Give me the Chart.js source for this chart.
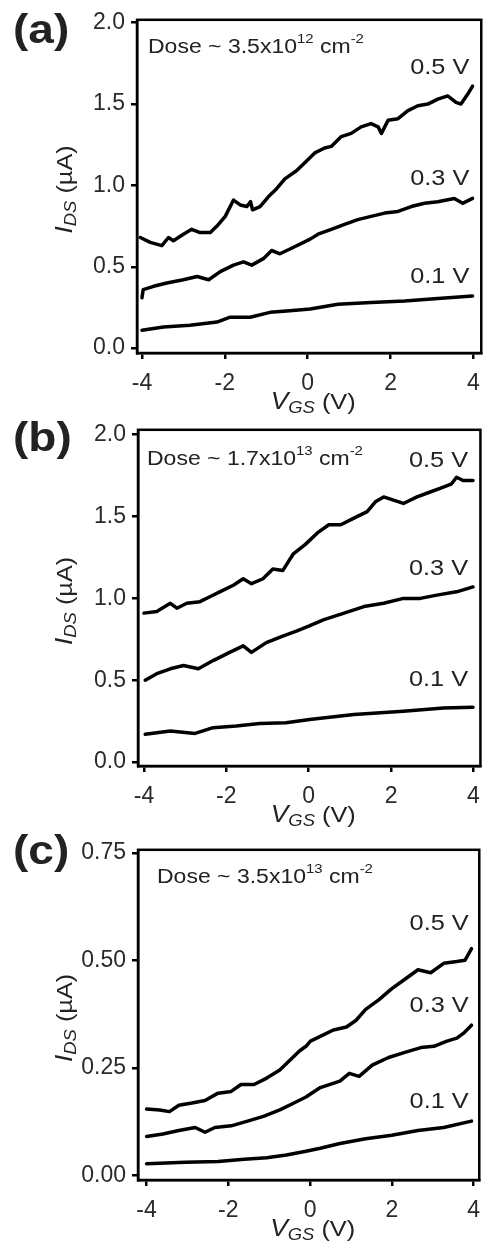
<!DOCTYPE html>
<html>
<head>
<meta charset="utf-8">
<script src="https://cdn.jsdelivr.net/npm/chart.js@4.4.1/dist/chart.umd.min.js"></script>
<style>
  html, body { margin: 0; padding: 0; background: #fff; }
  body { position: relative; width: 491px; height: 1249px; overflow: hidden; }
  canvas { position: absolute; left: 0; }
</style>
</head>
<body>
<canvas id="panelA" width="491" height="425" style="top:0px"></canvas>
<canvas id="panelB" width="491" height="430" style="top:410px"></canvas>
<canvas id="panelC" width="491" height="419" style="top:830px"></canvas>
<script>
const X_TICKS = [-4, -2, 0, 2, 4];
const Y_TICKS_AB = [0, 0.5, 1, 1.5, 2];
const Y_TICKS_C = [0, 0.25, 0.5, 0.75];
const BIAS_LABELS = ['0.5 V', '0.3 V', '0.1 V'];

// (a) dose ~ 3.5x10^12 cm^-2, [VGS (V), IDS (uA)]
const A_05 = [[-4.04, 0.68], [-3.8, 0.65], [-3.52, 0.63], [-3.36, 0.68], [-3.24, 0.66], [-3.0, 0.70], [-2.8, 0.73],
    [-2.6, 0.71], [-2.35, 0.71], [-2.19, 0.75], [-1.99, 0.81], [-1.79, 0.91], [-1.63, 0.88], [-1.47, 0.87],
    [-1.38, 0.90], [-1.33, 0.85], [-1.15, 0.87], [-0.95, 0.93], [-0.75, 0.98], [-0.55, 1.04], [-0.27, 1.09],
    [-0.07, 1.14], [0.17, 1.20], [0.41, 1.23], [0.57, 1.24], [0.81, 1.30], [1.05, 1.32], [1.29, 1.36],
    [1.53, 1.38], [1.70, 1.36], [1.78, 1.32], [1.94, 1.40], [2.18, 1.41], [2.42, 1.46], [2.66, 1.49],
    [2.90, 1.50], [3.14, 1.53], [3.38, 1.55], [3.58, 1.51], [3.70, 1.50], [3.86, 1.56], [3.98, 1.61]];
const A_03 = [[-4.0, 0.31], [-3.97, 0.36], [-3.72, 0.38], [-3.40, 0.40], [-3.0, 0.42], [-2.67, 0.44], [-2.39, 0.42],
    [-2.11, 0.47], [-1.79, 0.51], [-1.55, 0.53], [-1.35, 0.51], [-1.07, 0.55], [-0.87, 0.60], [-0.67, 0.58],
    [-0.34, 0.62], [0.06, 0.67], [0.25, 0.70], [0.57, 0.73], [0.89, 0.76], [1.21, 0.79], [1.53, 0.81],
    [1.86, 0.83], [2.18, 0.84], [2.50, 0.87], [2.82, 0.89], [3.14, 0.90], [3.54, 0.92], [3.74, 0.89], [3.98, 0.92]];
const A_01 = [[-4.0, 0.11], [-3.48, 0.13], [-2.84, 0.14], [-2.19, 0.16], [-1.87, 0.19], [-1.39, 0.19], [-0.91, 0.22],
    [-0.43, 0.23], [0.06, 0.24], [0.73, 0.27], [1.53, 0.28], [2.34, 0.29], [3.14, 0.305], [3.98, 0.32]];

// (b) dose ~ 1.7x10^13 cm^-2
const B_05 = [[-4.0, 0.91], [-3.69, 0.92], [-3.36, 0.97], [-3.20, 0.94], [-2.96, 0.97], [-2.64, 0.98], [-2.40, 1.01],
    [-2.16, 1.04], [-1.83, 1.08], [-1.59, 1.12], [-1.39, 1.09], [-1.11, 1.12], [-0.87, 1.18], [-0.63, 1.17],
    [-0.38, 1.27], [-0.08, 1.33], [0.21, 1.40], [0.49, 1.45], [0.78, 1.45], [1.10, 1.49], [1.42, 1.53],
    [1.62, 1.59], [1.82, 1.62], [2.06, 1.60], [2.30, 1.58], [2.63, 1.62], [2.95, 1.65], [3.27, 1.68],
    [3.47, 1.70], [3.59, 1.74], [3.75, 1.72], [3.99, 1.72]];
const B_03 = [[-3.97, 0.50], [-3.69, 0.54], [-3.36, 0.57], [-3.04, 0.59], [-2.68, 0.57], [-2.32, 0.62], [-1.92, 0.67],
    [-1.59, 0.71], [-1.39, 0.67], [-1.03, 0.73], [-0.63, 0.77], [-0.30, 0.80], [0.0, 0.83], [0.37, 0.87],
    [0.86, 0.91], [1.34, 0.95], [1.82, 0.97], [2.30, 1.00], [2.71, 1.00], [3.11, 1.02], [3.59, 1.04], [3.99, 1.07]];
const B_01 = [[-3.97, 0.17], [-3.36, 0.19], [-2.76, 0.175], [-2.32, 0.21], [-1.76, 0.22], [-1.19, 0.235], [-0.55, 0.24],
    [0.02, 0.26], [1.10, 0.29], [2.30, 0.31], [3.27, 0.33], [3.99, 0.335]];

// (c) dose ~ 3.5x10^13 cm^-2
const C_05 = [[-4.0, 0.154], [-3.68, 0.152], [-3.44, 0.148], [-3.21, 0.163], [-2.89, 0.168], [-2.57, 0.174],
    [-2.25, 0.191], [-1.93, 0.195], [-1.69, 0.211], [-1.37, 0.211], [-1.06, 0.226], [-0.74, 0.245],
    [-0.50, 0.267], [-0.26, 0.289], [-0.10, 0.30], [0.01, 0.312], [0.25, 0.323], [0.57, 0.338], [0.89, 0.345],
    [1.12, 0.360], [1.36, 0.386], [1.68, 0.408], [2.00, 0.434], [2.32, 0.456], [2.64, 0.478], [2.95, 0.471],
    [3.27, 0.493], [3.59, 0.497], [3.79, 0.50], [3.95, 0.527]];
const C_03 = [[-4.0, 0.090], [-3.60, 0.096], [-3.21, 0.104], [-2.81, 0.111], [-2.57, 0.100], [-2.33, 0.111],
    [-1.93, 0.115], [-1.53, 0.126], [-1.14, 0.137], [-0.74, 0.152], [-0.42, 0.167], [-0.10, 0.182],
    [0.25, 0.204], [0.73, 0.219], [0.96, 0.237], [1.20, 0.230], [1.52, 0.256], [1.92, 0.274], [2.32, 0.286],
    [2.71, 0.297], [3.03, 0.30], [3.35, 0.312], [3.59, 0.319], [3.75, 0.33], [3.95, 0.349]];
const C_01 = [[-4.0, 0.027], [-3.05, 0.030], [-2.25, 0.032], [-1.61, 0.037], [-1.06, 0.041], [-0.58, 0.047],
    [-0.10, 0.056], [0.25, 0.063], [0.73, 0.074], [1.36, 0.085], [2.00, 0.093], [2.64, 0.104], [3.27, 0.111],
    [3.95, 0.126]];

const FONT = "'Liberation Sans', Arial, sans-serif";
const INK = '#222';
const STRETCH = 1.15; // the scanned text is a bit wider than Arial

function richWidth(ctx, parts) {
    let w = 0;
    parts.forEach(p => {
        ctx.font = (p.style || '') + ' ' + p.size + 'px ' + FONT;
        w += ctx.measureText(p.t).width;
    });
    return w;
}

function drawRich(ctx, parts, x, y, align, angle) {
    ctx.save();
    ctx.translate(x, y);
    if (angle) ctx.rotate(angle);
    ctx.scale(STRETCH, 1);
    ctx.textBaseline = 'middle';
    ctx.textAlign = 'left';
    ctx.fillStyle = INK;
    const w = richWidth(ctx, parts);
    let cx = align === 'right' ? -w : align === 'center' ? -w / 2 : 0;
    parts.forEach(p => {
        ctx.font = (p.style || '') + ' ' + p.size + 'px ' + FONT;
        ctx.fillText(p.t, cx, p.dy || 0);
        cx += ctx.measureText(p.t).width;
    });
    ctx.restore();
}

const decor = {
    id: 'decor',
    afterDraw(chart, args, o) {
        const { ctx, chartArea: a, scales } = chart;
        ctx.save();
        ctx.strokeStyle = '#000';
        ctx.lineWidth = 2.5;
        ctx.strokeRect(a.left, a.top, a.right - a.left, a.bottom - a.top);
        ctx.restore();

        drawRich(ctx, [{ t: o.tag, size: 40, style: 'bold' }], 13, o.tagY, 'left');
        drawRich(ctx, [
            { t: 'Dose ~ ' + o.dose[0] + 'x10', size: 20 },
            { t: o.dose[1], size: 13, dy: -8 },
            { t: ' cm', size: 20 },
            { t: '-2', size: 13, dy: -8 },
        ], a.left + o.doseDx, a.top + o.doseDy, 'left');

        BIAS_LABELS.forEach((txt, i) => {
            drawRich(ctx, [{ t: txt, size: 22 }],
                scales.x.getPixelForValue(o.biasX), scales.y.getPixelForValue(o.biasY[i]), 'right');
        });

        drawRich(ctx, [
            { t: 'I', size: 23, style: 'italic' },
            { t: 'DS', size: 16, style: 'italic', dy: 6 },
            { t: ' (\u00b5A)', size: 22 },
        ], 66, (a.top + a.bottom) / 2 + 3, 'center', -Math.PI / 2);

        drawRich(ctx, [
            { t: 'V', size: 23, style: 'italic' },
            { t: 'GS', size: 16, style: 'italic', dy: 6 },
            { t: ' (V)', size: 22 },
        ], (a.left + a.right) / 2 + 4, a.bottom + 50, 'center');
    },
};

function makePanel(canvasId, p) {
    const canvas = document.getElementById(canvasId);
    const H = canvas.height;
    return new Chart(canvas, {
        type: 'scatter',
        data: {
            datasets: p.series.map(s => ({
                data: s.map(([x, y]) => ({ x, y })),
                showLine: true,
                borderColor: '#000',
                borderWidth: 3.5,
                pointRadius: 0,
                tension: 0,
                borderJoinStyle: 'round',
                borderCapStyle: 'round',
            })),
        },
        options: {
            responsive: false,
            animation: false,
            devicePixelRatio: 1,
            layout: { padding: { top: p.area.top, right: 491 - p.area.right, left: 0, bottom: 0 } },
            plugins: {
                legend: { display: false },
                tooltip: { enabled: false },
                decor: p.decor,
            },
            scales: {
                x: {
                    type: 'linear',
                    min: p.xRange[0],
                    max: p.xRange[1],
                    afterBuildTicks: s => { s.ticks = X_TICKS.map(value => ({ value })); },
                    afterFit: s => { s.height = H - p.area.bottom; },
                    grid: { drawOnChartArea: false, drawTicks: true, tickLength: 6, lineWidth: 2.5, color: '#000' },
                    border: { display: true, color: '#000', width: 2.5 },
                    ticks: { color: '#2a2a2a', padding: 11, maxRotation: 0, font: { family: FONT, size: 23 },
                        callback: v => String(v) },
                },
                y: {
                    type: 'linear',
                    min: p.yRange[0],
                    max: p.yRange[1],
                    afterBuildTicks: s => { s.ticks = p.yTicks.map(value => ({ value })); },
                    afterFit: s => { s.width = p.area.left; },
                    grid: { drawOnChartArea: false, drawTicks: true, tickLength: 6, lineWidth: 2.5, color: '#000' },
                    border: { display: true, color: '#000', width: 2.5 },
                    ticks: { color: '#2a2a2a', padding: 6, font: { family: FONT, size: 23 },
                        callback: v => v.toFixed(p.decimals) },
                },
            },
        },
        plugins: [decor],
    });
}

makePanel('panelA', {
    series: [A_05, A_03, A_01],
    area: { left: 137, top: 13, right: 482, bottom: 353 },
    xRange: [-4.12, 4.19],
    yRange: [-0.03, 2.018],
    yTicks: Y_TICKS_AB,
    decimals: 1,
    decor: { tag: '(a)', tagY: 32, dose: ['3.5', '12'], doseDx: 11, doseDy: 28, biasX: 3.9, biasY: [1.72, 1.04, 0.44] },
});

makePanel('panelB', {
    series: [B_05, B_03, B_01],
    area: { left: 138, top: 13, right: 482, bottom: 356 },
    xRange: [-4.145, 4.17],
    yRange: [-0.024, 2.03],
    yTicks: Y_TICKS_AB,
    decimals: 1,
    decor: { tag: '(b)', tagY: 30, dose: ['1.7', '13'], doseDx: 9, doseDy: 30, biasX: 3.87, biasY: [1.84, 1.18, 0.50] },
});

makePanel('panelC', {
    series: [C_05, C_03, C_01],
    area: { left: 138, top: 5, right: 488, bottom: 350 },
    xRange: [-4.21, 4.14],
    yRange: [-0.011, 0.757],
    yTicks: Y_TICKS_C,
    decimals: 2,
    decor: { tag: '(c)', tagY: 23, dose: ['3.5', '13'], doseDx: 19, doseDy: 28, biasX: 3.88, biasY: [0.585, 0.394, 0.171] },
});
</script>
</body>
</html>
